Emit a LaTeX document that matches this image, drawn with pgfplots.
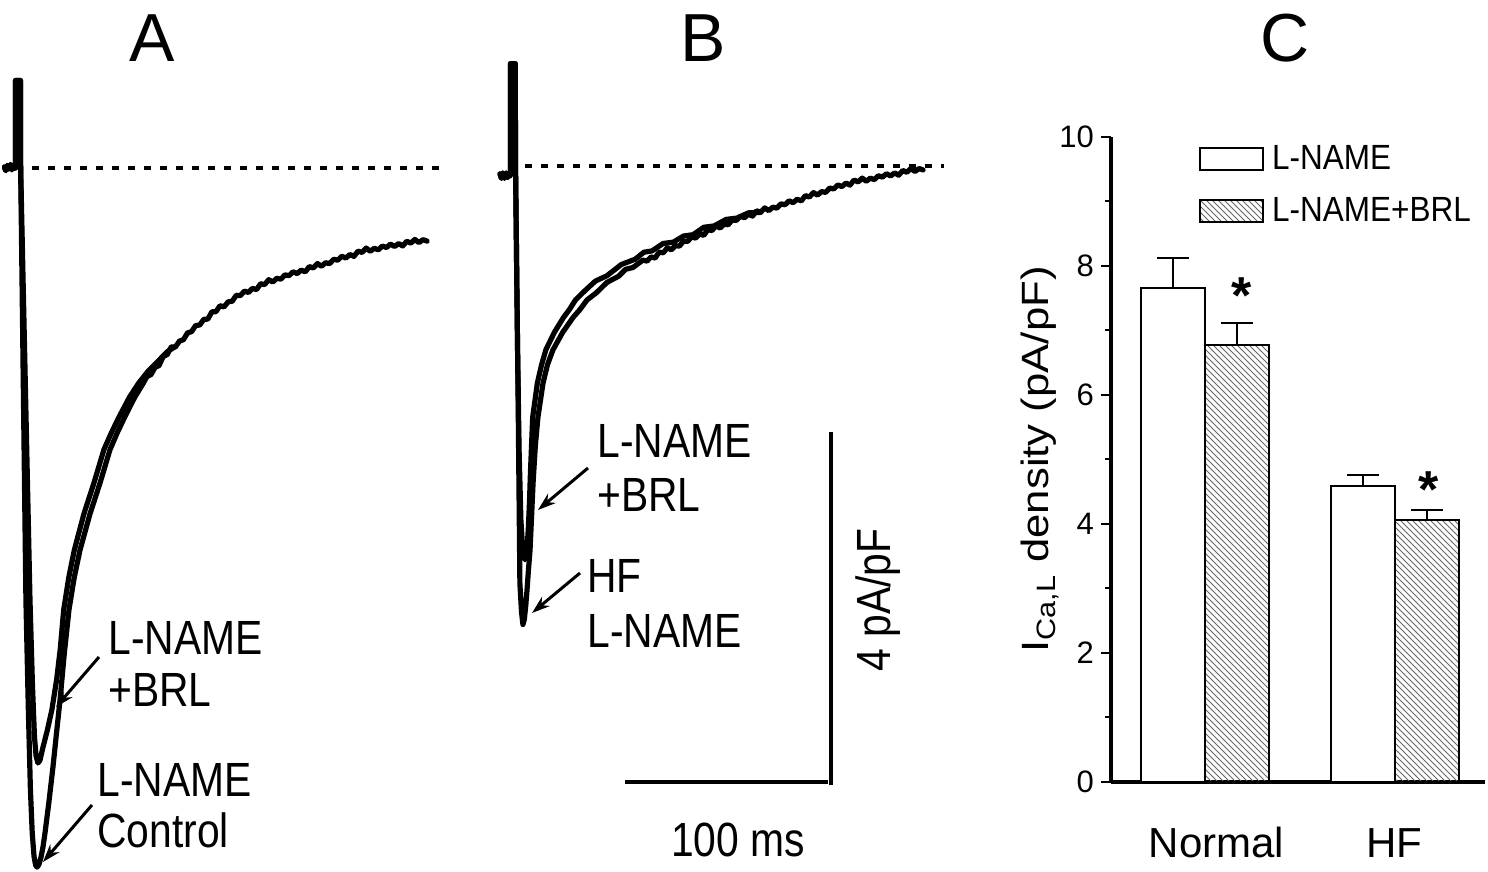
\documentclass[border=0pt]{standalone}
\usepackage{graphicx}
\usepackage{pgfplots}
\pgfplotsset{compat=1.18}
\usepackage{pgfplotstable}
\usepackage{fontspec}
\setmainfont{Liberation Sans}
\usetikzlibrary{arrows.meta,patterns}

\newcommand{\annfont}{\fontsize{24}{28}\selectfont}
\newcommand{\ann}[1]{\scalebox{0.85}[1]{#1}}

\pgfplotsset{
  trace/.style={black, line width=2.6pt, line join=round, line cap=round},
  zero/.style={black, line width=1.6pt, dash pattern=on 3.5pt off 4.5pt},
  legbox/.style={legend image code/.code={\draw[##1,line width=1.2pt] (0pt,-5.5pt) rectangle (31.5pt,5.5pt);}},
}

% panel A: time (ms) vs current density (pA/pF)
\pgfplotstableread{
t I
-6.2 0.01
-5.5 -0.03
-4.8 0.03
-4.0 -0.01
-3.2 0.04
-2.5 -0.02
-1.8 0.02
-1.0 0.00
-0.75 0.00
-0.75 1.00
1.70 1.00
1.80 0.00
4.4 -4.94
5.6 -6.20
6.6 -7.10
7.5 -7.60
8.4 -7.87
9.2 -7.97
9.9 -7.99
10.8 -7.96
11.8 -7.88
12.8 -7.76
13.8 -7.60
15.7 -7.25
17.7 -6.85
19.5 -6.45
21.2 -6.08
23.3 -5.55
25.6 -5.05
28.2 -4.68
31.0 -4.37
36.0 -3.95
40.9 -3.60
45.8 -3.22
49.5 -3.02
53.2 -2.84
58.0 -2.62
62.2 -2.46
64 -2.383
66 -2.361
68 -2.279
70 -2.257
72 -2.155
74 -2.132
76 -2.044
78 -2.047
80 -1.979
82 -1.962
84 -1.885
86 -1.870
88 -1.800
90 -1.795
92 -1.730
94 -1.727
96 -1.644
98 -1.642
100 -1.574
102 -1.587
104 -1.530
106 -1.523
108 -1.455
110 -1.459
112 -1.408
114 -1.422
116 -1.376
118 -1.390
120 -1.323
122 -1.332
124 -1.276
126 -1.303
128 -1.260
130 -1.271
132 -1.221
134 -1.231
136 -1.186
138 -1.207
140 -1.167
142 -1.187
144 -1.127
146 -1.142
148 -1.092
150 -1.123
152 -1.083
154 -1.093
156 -1.043
158 -1.054
160 -1.009
162 -1.029
164 -0.989
166 -1.010
168 -0.950
170 -0.965
172 -0.915
174 -0.952
176 -0.918
178 -0.935
180 -0.892
182 -0.909
184 -0.870
186 -0.897
188 -0.864
190 -0.891
192 -0.837
194 -0.859
196 -0.816
198 -0.853
200 -0.819
202 -0.836
}\ctrlA

\pgfplotstableread{
t I
-6.2 0.01
-5.5 -0.03
-4.8 0.03
-4.0 -0.01
-3.2 0.04
-2.5 -0.02
-1.8 0.02
-1.0 0.00
-0.75 0.00
-0.75 1.00
1.70 1.00
1.80 0.00
6.4 -4.94
7.6 -5.90
8.6 -6.50
9.4 -6.72
10.3 -6.80
11.3 -6.77
12.8 -6.62
15.0 -6.42
17.2 -6.19
19.5 -5.85
21.3 -5.50
23.0 -5.05
25.5 -4.68
28.2 -4.37
33.0 -3.95
37.9 -3.60
42.8 -3.22
46.6 -3.02
50.4 -2.84
55.4 -2.62
59.9 -2.46
64.3 -2.33
69.0 -2.22
74.0 -2.10
78.0 -2.04
}\brlA

% panel B
\pgfplotstableread{
t I
-6.4 -0.09
-5.7 -0.14
-5.0 -0.08
-4.2 -0.14
-3.4 -0.08
-2.6 -0.13
-1.8 -0.09
-1.25 -0.11
-1.25 1.17
1.10 1.17
1.25 0.00
2.5 -2.60
3.4 -4.77
4.2 -5.10
4.9 -5.24
5.6 -5.18
6.3 -5.02
6.9 -4.85
7.6 -4.62
8.4 -4.39
9.9 -3.62
11.0 -3.20
12.3 -2.87
14.8 -2.48
17.0 -2.27
19.7 -2.10
24.5 -1.90
29.6 -1.73
33.0 -1.64
36.5 -1.53
41.0 -1.45
46.3 -1.33
52.0 -1.26
55.5 -1.18
59.1 -1.16
64 -1.075
66 -1.087
68 -1.039
70 -1.052
72 -0.984
74 -0.992
76 -0.934
78 -0.958
80 -0.911
82 -0.915
84 -0.858
86 -0.862
88 -0.810
90 -0.824
92 -0.777
94 -0.792
96 -0.727
98 -0.738
100 -0.683
102 -0.709
104 -0.665
106 -0.671
108 -0.616
110 -0.622
112 -0.573
114 -0.592
116 -0.551
118 -0.572
120 -0.512
122 -0.528
124 -0.479
126 -0.510
128 -0.470
130 -0.481
132 -0.432
134 -0.443
136 -0.398
138 -0.419
140 -0.379
142 -0.399
144 -0.339
146 -0.354
148 -0.303
150 -0.333
152 -0.292
154 -0.302
156 -0.252
158 -0.262
160 -0.216
162 -0.236
164 -0.195
166 -0.218
168 -0.161
170 -0.182
172 -0.138
174 -0.174
176 -0.139
178 -0.155
180 -0.111
182 -0.127
184 -0.088
186 -0.114
188 -0.079
190 -0.105
192 -0.051
194 -0.072
196 -0.027
198 -0.063
200 -0.029
202 -0.045
}\ctrlB

\pgfplotstableread{
t I
-6.4 -0.09
-5.7 -0.14
-5.0 -0.08
-4.2 -0.14
-3.4 -0.08
-2.6 -0.13
-1.8 -0.09
-1.25 -0.11
-1.25 1.17
1.10 1.17
1.25 0.00
2.2 -2.00
3.0 -3.25
3.9 -4.05
4.9 -4.42
5.9 -4.50
6.9 -4.39
7.6 -4.12
8.1 -3.85
8.6 -3.50
9.7 -2.87
12.0 -2.48
14.1 -2.27
16.2 -2.10
20.4 -1.90
24.9 -1.73
27.8 -1.64
30.8 -1.53
35.2 -1.43
40.6 -1.315
46.2 -1.255
53.4 -1.125
60.2 -1.065
64.5 -0.985
68.5 -0.970
74.0 -0.885
79.0 -0.870
84.0 -0.80
88.7 -0.785
94.0 -0.70
99.0 -0.685
105.0 -0.61
110.3 -0.595
116.0 -0.535
122.0 -0.53
}\brlB

\begin{document}
\begin{tikzpicture}
\path (0,0) rectangle (744pt,436pt);

% ---------- A ----------
\begin{axis}[at={(0.38pt,0.25pt)}, anchor=south west, scale only axis,
  width=219.24pt, height=421.75pt,
  xmin=-8, xmax=208, ymin=-8.04, ymax=1.6,
  hide axis, clip=false]
\addplot[zero] coordinates {(7.4,0) (208,0)};
\addplot[trace] table {\ctrlA};
\addplot[trace] table {\brlA};
\end{axis}

% ---------- B ----------
\begin{axis}[at={(245.33pt,0.8pt)}, anchor=south west, scale only axis,
  width=224.32pt, height=422.19pt,
  xmin=-11, xmax=210, ymin=-8.05, ymax=1.6,
  hide axis, clip=false]
\addplot[zero] coordinates {(5.9,0) (212.5,0)};
\addplot[trace] table {\ctrlB};
\addplot[trace] table {\brlB};
% scale bars: 100 ms and 4 pA/pF
\draw[line width=2pt] (axis cs:55.2,-7.04) -- (axis cs:155.2,-7.04);
\draw[line width=2pt] (axis cs:156.6,-7.07) -- (axis cs:156.6,-3.04);
\end{axis}

% ---------- C ----------
\begin{axis}[at={(555.5pt,45pt)}, anchor=south west, scale only axis,
  width=187.15pt, height=322.5pt,
  xmin=-0.495, xmax=1.475, ymin=0, ymax=10,
  axis x line*=bottom, axis y line*=left,
  axis line style={line width=2.4pt},
  ybar=0pt, bar width=32pt,
  ytick={0,2,...,10}, minor y tick num=1,
  tick align=outside, major tick length=5pt, minor tick length=2.8pt,
  every tick/.style={black, line width=1pt},
  xtick={0.06,0.995}, xticklabels={Normal,HF},
  major x tick style={draw=none},
  /pgf/number format/assume math mode=true,
  yticklabel style={font=\fontsize{15.5}{18}\selectfont},
  xticklabel style={font=\fontsize{21}{24}\selectfont, anchor=base, yshift=-33pt},
  ylabel={\scalebox{1.15}[1]{I\textsubscript{Ca,L} density (pA/pF)}},
  ylabel style={font=\fontsize{19}{22}\selectfont, at={(axis description cs:-0.19,0.5)}, anchor=center},
  legend style={at={(axis cs:-0.035,9.91)}, anchor=north west, draw=none, fill=none,
    font=\fontsize{17.5}{20}\selectfont, row sep=10.5pt, inner sep=0pt,
    nodes={inner sep=1pt},
    /tikz/every odd column/.append style={column sep=3pt}},
  legend cell align=left,
  error bars/y dir=plus, error bars/y explicit,
  error bars/error bar style={line width=1.2pt, black},
  error bars/error mark options={rotate=90, mark size=8pt, line width=1.2pt, black},
]
\addplot[draw=black, fill=white, line width=1.2pt, legbox]
  coordinates {(0,7.66) +- (0,0.465) (1,4.59) +- (0,0.17)};
\addplot[draw=black, pattern=north west lines, pattern color=black!60, line width=1.2pt, legbox]
  coordinates {(0,6.775) +- (0,0.34) (1,4.06) +- (0,0.155)};
\legend{\scalebox{0.9}[1]{L-NAME}, \scalebox{0.9}[1]{L-NAME+BRL}}
\node[font=\fontsize{26}{28}\selectfont\bfseries, anchor=base, inner sep=0pt] at (axis cs:0.195,7.26) {*};
\node[font=\fontsize{26}{28}\selectfont\bfseries, anchor=base, inner sep=0pt] at (axis cs:1.174,4.26) {*};
\end{axis}

% ---------- panel letters ----------
\node[font=\fontsize{34}{38}\selectfont, anchor=base, inner sep=0pt] at (76pt,405pt) {A};
\node[font=\fontsize{34}{38}\selectfont, anchor=base, inner sep=0pt] at (351.5pt,405pt) {B};
\node[font=\fontsize{34}{38}\selectfont, anchor=base, inner sep=0pt] at (642.5pt,405pt) {C};

% ---------- trace labels ----------
\begin{scope}[every node/.style={font=\annfont, anchor=base west, inner sep=0pt},
  arr/.style={line width=1.5pt, -{Stealth[length=9pt,width=6pt]}}]
\node at (54pt,108.5pt) {\ann{L-NAME}};
\node at (54pt,82.5pt) {\ann{+BRL}};
\node at (48.5pt,37.5pt) {\ann{L-NAME}};
\node at (48.5pt,12pt) {\ann{Control}};
\draw[arr] (49.5pt,107.5pt) -- (28pt,82.5pt);
\draw[arr] (46pt,33.5pt) -- (21.5pt,5pt);
\node at (298.5pt,207pt) {\ann{L-NAME}};
\node at (298.5pt,180pt) {\ann{+BRL}};
\node at (293.5pt,139.5pt) {\ann{HF}};
\node at (293.5pt,112pt) {\ann{L-NAME}};
\draw[arr] (294pt,202pt) -- (269pt,181pt);
\draw[arr] (290pt,149.5pt) -- (266pt,129.5pt);
\node[anchor=base] at (369pt,7.5pt) {\ann{100 ms}};
\node[anchor=base, rotate=90] at (445pt,136pt) {\ann{4 pA/pF}};
\end{scope}
\end{tikzpicture}
\end{document}
